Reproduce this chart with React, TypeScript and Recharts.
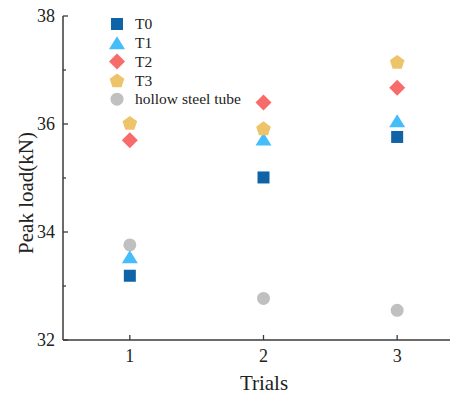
import React from 'react';
import { ScatterChart, Scatter, XAxis, YAxis, Customized } from 'recharts';

const trials = [1, 2, 3];
const t0 = [33.19, 35.01, 35.76];
const t1 = [33.54, 35.72, 36.06];
const t2 = [35.70, 36.40, 36.67];
const t3 = [36.02, 35.92, 37.15];
const hollow = [33.76, 32.77, 32.55];
const seriesNames = ['T0', 'T1', 'T2', 'T3', 'hollow steel tube'];
const xTicks = [1, 2, 3];
const yTicks = [32, 33, 34, 35, 36, 37, 38];
const yMajor = [32, 34, 36, 38];

const COLORS = {
  t0: '#0f64a8',
  t1: '#46bdfb',
  t2: '#f86b6b',
  t3: '#eec46a',
  hollow: '#c0c0c0',
};
const AXIS = '#3a3a3a';
const FONT = "'Liberation Serif', 'DejaVu Serif', serif";

const txt = (size: number) => ({ fontFamily: FONT, fontSize: `${size}px`, fill: '#222' });

const toData = (vals: number[]) => trials.map((x, i) => ({ x, y: vals[i] }));

const pentPoints = (cx: number, cy: number, r: number) => {
  const pts: string[] = [];
  for (let k = 0; k < 5; k++) {
    const a = -Math.PI / 2 + (k * 2 * Math.PI) / 5;
    pts.push(`${cx + r * Math.cos(a)},${cy + r * Math.sin(a)}`);
  }
  return pts.join(' ');
};

const Square = ({ cx, cy, c }: any) => (
  <rect x={cx - 6} y={cy - 6} width={12} height={12} fill={c} />
);
const Tri = ({ cx, cy, c }: any) => (
  <polygon points={`${cx},${cy - 6.5} ${cx + 8},${cy + 6.5} ${cx - 8},${cy + 6.5}`} fill={c} />
);
const Dia = ({ cx, cy, c }: any) => (
  <polygon points={`${cx},${cy - 8} ${cx + 8},${cy} ${cx},${cy + 8} ${cx - 8},${cy}`} fill={c} />
);
const Pent = ({ cx, cy, c }: any) => (
  <polygon points={pentPoints(cx, cy + 0.7, 7.7)} fill={c} />
);
const Circ = ({ cx, cy, c }: any) => <circle cx={cx} cy={cy} r={6.5} fill={c} />;

const YTick = ({ x, y, payload }: any) => {
  const major = yMajor.includes(payload.value);
  return (
    <g>
      <line x1={x} y1={y} x2={x + (major ? 5 : 3)} y2={y} stroke={AXIS} strokeWidth={1.3} />
      {major && (
        <text x={x - 8} y={y + 6} textAnchor="end" style={txt(18)}>
          {payload.value}
        </text>
      )}
    </g>
  );
};

const XTick = ({ x, y, payload }: any) => (
  <g>
    <line x1={x} y1={y} x2={x} y2={y - 5} stroke={AXIS} strokeWidth={1.3} />
    <text x={x} y={y + 22} textAnchor="middle" style={txt(18)}>
      {payload.value}
    </text>
  </g>
);

const legendItems = [
  { name: seriesNames[0], Shape: Square, c: COLORS.t0 },
  { name: seriesNames[1], Shape: Tri, c: COLORS.t1 },
  { name: seriesNames[2], Shape: Dia, c: COLORS.t2 },
  { name: seriesNames[3], Shape: Pent, c: COLORS.t3 },
  { name: seriesNames[4], Shape: Circ, c: COLORS.hollow },
];

const Overlay = () => (
  <g>
    {legendItems.map((it, i) => {
      const cy = 16 + i * 18.8;
      const S = it.Shape;
      return (
        <g key={it.name}>
          <S cx={109} cy={cy} c={it.c} />
          <text x={127} y={cy + 5.2} style={txt(15.5)}>
            {it.name}
          </text>
        </g>
      );
    })}
    <text
      x={0}
      y={0}
      transform="translate(25, 185) rotate(-90)"
      textAnchor="middle"
      style={txt(21)}
    >
      Peak load(kN)
    </text>
    <text x={256} y={382} textAnchor="middle" style={txt(21)}>
      Trials
    </text>
  </g>
);

export default function App() {
  return (
    <div style={{ width: 450, height: 387, overflow: 'hidden', fontFamily: FONT }}>
      <ScatterChart width={466} height={387} margin={{ top: 8, right: 10, bottom: 0, left: 0 }}>
        <XAxis
          type="number"
          dataKey="x"
          domain={[0.5, 3.5]}
          ticks={xTicks}
          height={55}
          tickSize={0}
          tickMargin={0}
          tickLine={false}
          axisLine={{ stroke: AXIS, strokeWidth: 1.5 }}
          tick={<XTick />}
          interval={0}
          allowDataOverflow
        />
        <YAxis
          type="number"
          dataKey="y"
          domain={[32, 38]}
          ticks={yTicks}
          width={55}
          tickSize={0}
          tickMargin={0}
          tickLine={false}
          axisLine={{ stroke: AXIS, strokeWidth: 1.5 }}
          tick={<YTick />}
          interval={0}
          allowDataOverflow
        />
        <Scatter name={seriesNames[4]} data={toData(hollow)} isAnimationActive={false}
          shape={(p: any) => <Circ cx={p.cx} cy={p.cy} c={COLORS.hollow} />} />
        <Scatter name={seriesNames[0]} data={toData(t0)} isAnimationActive={false}
          shape={(p: any) => <Square cx={p.cx} cy={p.cy} c={COLORS.t0} />} />
        <Scatter name={seriesNames[1]} data={toData(t1)} isAnimationActive={false}
          shape={(p: any) => <Tri cx={p.cx} cy={p.cy} c={COLORS.t1} />} />
        <Scatter name={seriesNames[2]} data={toData(t2)} isAnimationActive={false}
          shape={(p: any) => <Dia cx={p.cx} cy={p.cy} c={COLORS.t2} />} />
        <Scatter name={seriesNames[3]} data={toData(t3)} isAnimationActive={false}
          shape={(p: any) => <Pent cx={p.cx} cy={p.cy} c={COLORS.t3} />} />
        <Customized component={<Overlay />} />
      </ScatterChart>
    </div>
  );
}
